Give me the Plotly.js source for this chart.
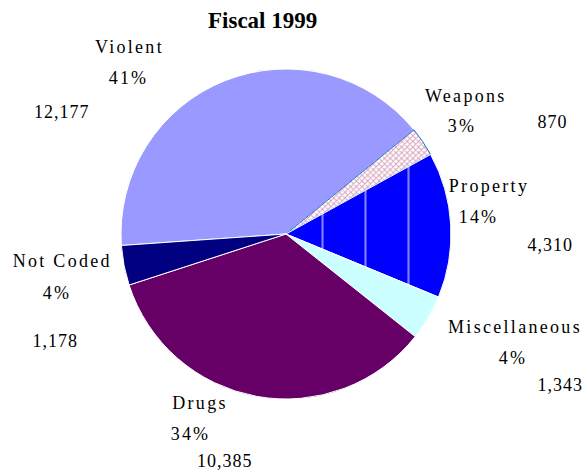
<!DOCTYPE html>
<html>
<head>
<meta charset="utf-8">
<script src="https://cdn.plot.ly/plotly-3.0.1.min.js"></script>
<style>html,body{margin:0;padding:0;background:#fff;}#chart{width:584px;height:474px;}</style>
</head>
<body>
<div id="chart"></div>
<script>
// Data
const categories = ["Violent", "Weapons", "Property", "Miscellaneous", "Drugs", "Not Coded"];
const counts = [12177, 870, 4310, 1343, 10385, 1178];
const percentLabels = ["41%", "3%", "14%", "4%", "34%", "4%"];
const countLabels = ["12,177", "870", "4,310", "1,343", "10,385", "1,178"];

// Styles
const colors = ["#9999FF", "#FFFFFF", "#0000FF", "#CCFFFF", "#660066", "#000080"];
const patternShapes = ["", "x", "|", "", "", ""];
const patternFg = ["#000", "#B04878", "#FFFFFF", "#000", "#000", "#000"];
const patternSize = [8, 4, 43, 8, 8, 8];
const patternSolid = [0.3, 0.45, 0.05, 0.3, 0.3, 0.3];
const lineColors = ["#FFFFFF", "#1E6FD0", "#FFFFFF", "#FFFFFF", "#FFFFFF", "#FFFFFF"];

// label placement (pixel centres): [name, percent, count]
const W = 584, H = 474;
const labelPos = [
  [[129, 47], [128, 78], [62, 112]],
  [[466, 96], [462, 126], [552, 122]],
  [[489, 186], [478, 217], [550, 245]],
  [[515, 327], [513, 358], [560, 385]],
  [[200, 403], [191, 434], [225, 461]],
  [[62, 261], [57, 293], [55, 341]]
];
const spacing = ["2.3px", "2.2px", "1px"]; // name, percent, count letter spacing

const cx = 286, cy = 234, r = 165;
const trace = {
  type: "pie",
  labels: categories,
  values: counts,
  sort: false,
  direction: "clockwise",
  rotation: -94,
  textinfo: "none",
  hoverinfo: "label+value+percent",
  domain: {x: [(cx - r) / W, (cx + r) / W], y: [1 - (cy + r) / H, 1 - (cy - r) / H]},
  marker: {
    colors: colors,
    line: {color: lineColors, width: 1},
    pattern: {
      shape: patternShapes,
      fgcolor: patternFg,
      bgcolor: colors,
      size: patternSize,
      solidity: patternSolid,
      fillmode: "overlay"
    }
  },
  showlegend: false
};

const serif = "'Liberation Serif', 'Times New Roman', Times, serif";
const font = {family: serif, size: 18, color: "#000"};
const annotations = [{
  text: "<b>Fiscal 1999</b>",
  x: 262 / W, y: 1 - 20 / H, xref: "paper", yref: "paper",
  xanchor: "center", yanchor: "middle", showarrow: false,
  font: {family: serif, size: 23, color: "#000"}
}];
let css = "";
categories.forEach((c, i) => {
  const texts = [c, percentLabels[i], countLabels[i]];
  texts.forEach((t, j) => {
    css += '.annotation[data-index="' + annotations.length + '"] text{letter-spacing:' + spacing[j] + ';}\n';
    annotations.push({
      text: t, x: labelPos[i][j][0] / W, y: 1 - labelPos[i][j][1] / H,
      xref: "paper", yref: "paper", xanchor: "center", yanchor: "middle",
      showarrow: false, font: font
    });
  });
});
const st = document.createElement("style");
st.textContent = css;
document.head.appendChild(st);

const layout = {
  width: W, height: H,
  margin: {l: 0, r: 0, t: 0, b: 0},
  paper_bgcolor: "#FFFFFF",
  font: {family: serif},
  annotations: annotations
};

Plotly.newPlot("chart", [trace], layout, {displayModeBar: false, staticPlot: true});
</script>
</body>
</html>
